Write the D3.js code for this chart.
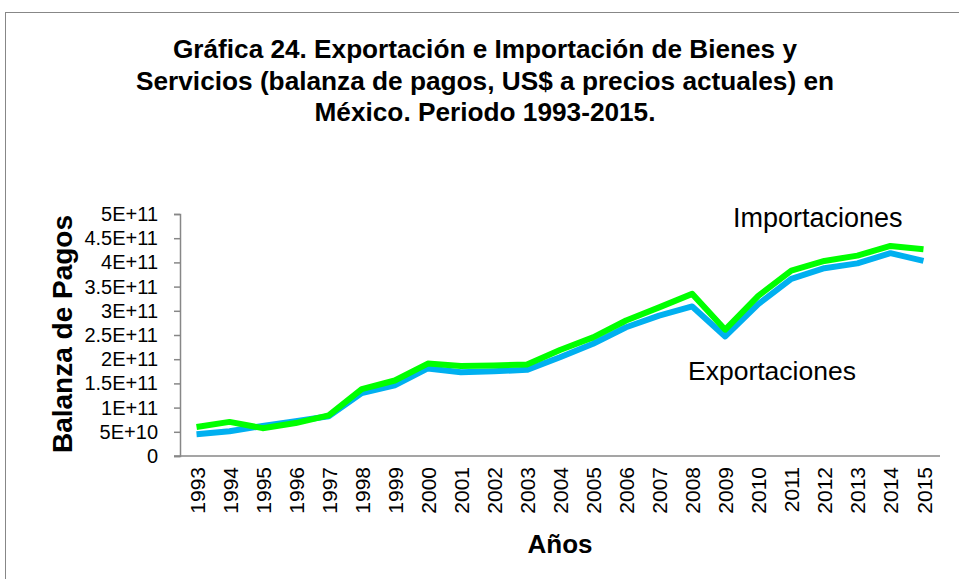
<!DOCTYPE html>
<html>
<head>
<meta charset="utf-8">
<script src="https://cdn.jsdelivr.net/npm/d3@7"></script>
<style>
  body { margin: 0; background: #fff; }
  text { font-family: "Liberation Sans", Arial, sans-serif; fill: #000; }
</style>
</head>
<body>
<div class="chart"></div>
<script>
var svgWidth = 959;
var svgHeight = 579;

var years = ["1993","1994","1995","1996","1997","1998","1999","2000","2001","2002","2003",
  "2004","2005","2006","2007","2008","2009","2010","2011","2012","2013","2014","2015"];

// valores (US$)
var exportaciones = [4.5e10, 5.1e10, 6.2e10, 7.2e10, 8.2e10, 13.0e10, 14.6e10, 18.1e10, 17.3e10, 17.5e10, 17.8e10,
  20.4e10, 23.2e10, 26.6e10, 29.0e10, 30.9e10, 24.7e10, 31.4e10, 36.6e10, 38.8e10, 39.8e10, 41.9e10, 40.3e10];
var importaciones = [6.0e10, 7.05e10, 5.75e10, 6.8e10, 8.4e10, 13.8e10, 15.6e10, 19.1e10, 18.6e10, 18.7e10, 18.9e10,
  21.9e10, 24.5e10, 28.0e10, 30.7e10, 33.5e10, 26.1e10, 33.1e10, 38.3e10, 40.3e10, 41.4e10, 43.4e10, 42.7e10];

var yTicks = [0, 5e10, 1e11, 1.5e11, 2e11, 2.5e11, 3e11, 3.5e11, 4e11, 4.5e11, 5e11];

var titleLines = ["Gráfica 24. Exportación e Importación de Bienes y",
  "Servicios (balanza de pagos, US$ a precios actuales) en",
  "México. Periodo 1993-2015."];
var titleWidths = [624, 698, 341];

var plot = { left: 180, right: 940, top: 214, bottom: 456 };

var svg = d3.select(".chart")
  .append("svg")
  .attr("width", svgWidth)
  .attr("height", svgHeight);

// marco del grafico
svg.append("rect")
  .attr("x", 5.5).attr("y", 12.5)
  .attr("width", 1000).attr("height", 1000)
  .attr("fill", "none")
  .attr("stroke", "#878787")
  .attr("stroke-width", 1);

svg.append("g")
  .selectAll("text")
  .data(titleLines)
  .enter().append("text")
    .attr("x", 485)
    .attr("y", function(d, i) { return 58 + i * 31.5; })
    .attr("text-anchor", "middle")
    .attr("textLength", function(d, i) { return titleWidths[i]; })
    .attr("lengthAdjust", "spacingAndGlyphs")
    .style("font-size", "25px")
    .style("font-weight", "bold")
    .text(function(d) { return d; });

var xScale = d3.scalePoint()
  .domain(years)
  .range([plot.left, plot.right])
  .padding(0.5);

var yScale = d3.scaleLinear()
  .domain([0, 5e11])
  .range([plot.bottom, plot.top]);

var fmt = function(v) {
  return v === 0 ? "0" : v.toExponential().toUpperCase();
};

// eje y
var leftAxis = d3.axisLeft(yScale)
  .tickValues(yTicks)
  .tickFormat(fmt)
  .tickSize(6)
  .tickPadding(16);

var gy = svg.append("g")
  .attr("transform", "translate(" + plot.left + ",0)")
  .call(leftAxis);
gy.select(".domain").attr("stroke", "#878787").attr("stroke-width", 1.5);
gy.selectAll(".tick line").attr("stroke", "#878787").attr("stroke-width", 1.5);
gy.selectAll(".tick text")
  .style("font-size", "20px")
  .style("font-family", "'Liberation Sans', Arial, sans-serif");

// eje x
var bottomAxis = d3.axisBottom(xScale)
  .tickSize(0)
  .tickSizeOuter(0)
  .tickPadding(0);

var gx = svg.append("g")
  .attr("transform", "translate(0," + plot.bottom + ")")
  .call(bottomAxis);
gx.select(".domain")
  .attr("d", "M" + (plot.left - 6) + ",0H" + plot.right)
  .attr("stroke", "#878787").attr("stroke-width", 1.5);
gx.selectAll(".tick text")
  .attr("transform", "rotate(-90)")
  .attr("x", -11)
  .attr("y", 0)
  .attr("dy", "0.36em")
  .attr("text-anchor", "end")
  .style("font-size", "21px")
  .style("font-family", "'Liberation Sans', Arial, sans-serif");

// lineas
var line = function(values) {
  return d3.line()
    .x(function(d, i) { return xScale(years[i]); })
    .y(function(d) { return yScale(d); })(values);
};

svg.append("path")
  .attr("d", line(exportaciones))
  .attr("fill", "none")
  .attr("stroke", "#00B0F0")
  .attr("stroke-width", 6)
  .attr("stroke-linejoin", "round");

svg.append("path")
  .attr("d", line(importaciones))
  .attr("fill", "none")
  .attr("stroke", "#00FF00")
  .attr("stroke-width", 6)
  .attr("stroke-linejoin", "round");

// etiquetas de series
svg.append("text")
  .attr("x", 733).attr("y", 227)
  .style("font-size", "27px")
  .text("Importaciones");

svg.append("text")
  .attr("x", 688).attr("y", 380)
  .style("font-size", "26.5px")
  .text("Exportaciones");

// titulos de ejes
svg.append("text")
  .attr("transform", "translate(72,334) rotate(-90)")
  .attr("text-anchor", "middle")
  .style("font-size", "28px")
  .style("font-weight", "bold")
  .text("Balanza de Pagos");

svg.append("text")
  .attr("x", 560).attr("y", 553)
  .attr("text-anchor", "middle")
  .style("font-size", "26px")
  .style("font-weight", "bold")
  .text("Años");
</script>
</body>
</html>
